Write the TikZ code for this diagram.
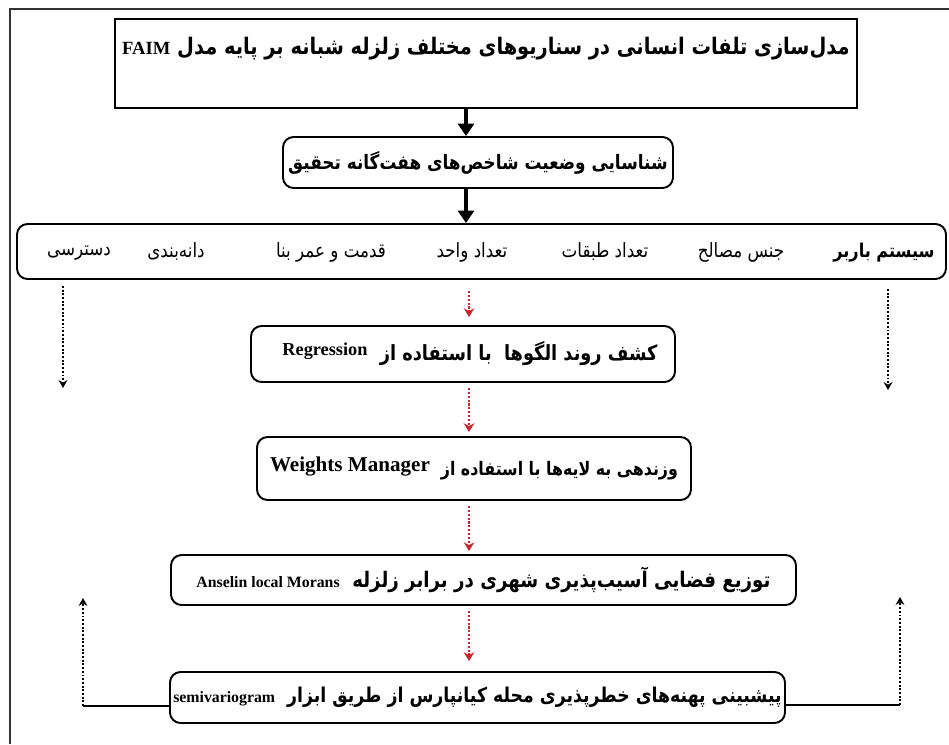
\documentclass[tikz,border=0pt]{standalone}
\usepackage{fontspec}
\usepackage{tikz}
\usetikzlibrary{arrows.meta}
\setmainfont{Liberation Serif}
\newfontfamily\farsifont[Script=Arabic, FakeStretch=0.85]{DejaVu Sans}
\TeXXeTstate=1
\definecolor{redink}{RGB}{205, 35, 40}
\definecolor{frameink}{RGB}{50, 50, 50}
\newlength{\pxu}
\setlength{\pxu}{0.02cm}
\newcommand{\farsitext}[1]{{\farsifont\beginR #1\endR}}
\newcommand{\latinword}[2]{\beginL{\rmfamily\bfseries\fontsize{#1}{#1}\selectfont #2}\endL}

\begin{document}
\begin{tikzpicture}[x=0.02cm, y=-0.02cm,
  flatbox/.style={draw, line width=1.6pt, inner sep=0pt, align=center},
  roundbox/.style={draw, line width=1.1pt, rounded corners=6pt, inner sep=0pt, align=center},
  factor/.style={anchor=base, font=\fontsize{11.2}{13}\selectfont},
  mainarrow/.style={line width=2.4pt, -{Triangle[width=9pt, length=7pt]}},
  redarrow/.style={redink, line width=1.2pt, densely dotted, -{Stealth[width=6pt, length=5pt]}},
  sidearrow/.style={line width=1.1pt, densely dotted, -{Stealth[width=5pt, length=4.5pt]}}]
  \useasboundingbox (0,0) rectangle (949,744);
  \draw[frameink, line width=1.4pt] (10,744) -- (10,9) -- (949,9);

  % boxes
  \node[flatbox, minimum width=742\pxu, minimum height=89\pxu, text height=20pt, text depth=30pt,
        font=\fontsize{13}{15}\selectfont\bfseries] (model) at (486,63.5)
        {\farsitext{مدل‌سازی تلفات انسانی در سناریوهای مختلف زلزله شبانه بر پایه مدل \latinword{10.6}{FAIM}}};
  \node[roundbox, minimum width=390\pxu, minimum height=51\pxu,
        font=\fontsize{11.3}{13}\selectfont\bfseries] (indices) at (478,162.5)
        {\farsitext{شناسایی وضعیت شاخص‌های هفت‌گانه تحقیق}};
  \node[roundbox, minimum width=929\pxu, minimum height=55\pxu] (factors) at (481.5,251.5) {};
  \node[roundbox, minimum width=424\pxu, minimum height=56\pxu,
        font=\fontsize{11.9}{13}\selectfont\bfseries] (regress) at (463,354)
        {\farsitext{کشف روند الگوها\ \ با استفاده از\ \ \raisebox{3pt}{\latinword{10.4}{Regression}}\hspace{14\pxu}}};
  \node[roundbox, minimum width=434\pxu, minimum height=63\pxu,
        font=\fontsize{10.6}{13}\selectfont\bfseries] (weights) at (474,468.5)
        {\farsitext{وزندهی به لایه‌ها با استفاده از\ \ \raisebox{2pt}{\latinword{12}{Weights Manager}}}};
  \node[roundbox, minimum width=625\pxu, minimum height=50\pxu,
        font=\fontsize{12.2}{13}\selectfont\bfseries] (anselin) at (483.5,580)
        {\farsitext{توزیع فضایی آسیب‌پذیری شهری در برابر زلزله\ \ \latinword{9}{Anselin local Morans}}};
  \node[roundbox, minimum width=615\pxu, minimum height=51\pxu,
        font=\fontsize{11.6}{13}\selectfont\bfseries] (semi) at (477.5,697.5)
        {\farsitext{پیشبینی پهنه‌های خطرپذیری محله کیانپارس از طریق ابزار\ \ \latinword{9}{semivariogram}}};

  % the seven indices
  \node[factor, font=\fontsize{10.8}{13}\selectfont\bfseries] (fload) at (884,257) {\farsitext{سیستم باربر}};
  \node[factor] (fmat) at (741,257) {\farsitext{جنس مصالح}};
  \node[factor] (ffloor) at (605,257) {\farsitext{تعداد طبقات}};
  \node[factor] (funit) at (472,257) {\farsitext{تعداد واحد}};
  \node[factor] (fage) at (331,257) {\farsitext{قدمت و عمر بنا}};
  \node[factor] (fgrain) at (176,257) {\farsitext{دانه‌بندی}};
  \node[factor] (faccess) at (79,255) {\farsitext{دسترسی}};

  % connectors
  \coordinate (axis) at (466,0);
  \coordinate (redaxis) at (469,0);
  \draw[mainarrow] (model.south -| axis) -- (indices.north -| axis);
  \draw[mainarrow] (indices.south -| axis) -- (factors.north -| axis);
  \draw[redarrow, shorten <=11\pxu, shorten >=8\pxu] (factors.south -| redaxis) -- (regress.north -| redaxis);
  \draw[redarrow, shorten <=5\pxu, shorten >=4\pxu] (regress.south -| redaxis) -- (weights.north -| redaxis);
  \draw[redarrow, shorten <=5\pxu, shorten >=3\pxu] (weights.south -| redaxis) -- (anselin.north -| redaxis);
  \draw[redarrow, shorten <=5\pxu, shorten >=10\pxu] (anselin.south -| redaxis) -- (semi.north -| redaxis);

  \coordinate (downL) at (63,388);
  \coordinate (downR) at (888,390);
  \draw[sidearrow, shorten <=6\pxu] (factors.south -| downL) -- (downL);
  \draw[sidearrow, shorten <=9\pxu] (factors.south -| downR) -- (downR);

  \coordinate (lowL) at (83,706);
  \coordinate (upL) at (83,598);
  \coordinate (lowR) at (900,705);
  \coordinate (upR) at (900,597);
  \draw[line width=1pt] (semi.west |- lowL) -- (lowL);
  \draw[sidearrow] (lowL) -- (upL);
  \draw[line width=1pt] (semi.east |- lowR) -- (lowR);
  \draw[sidearrow] (lowR) -- (upR);
\end{tikzpicture}
\end{document}
